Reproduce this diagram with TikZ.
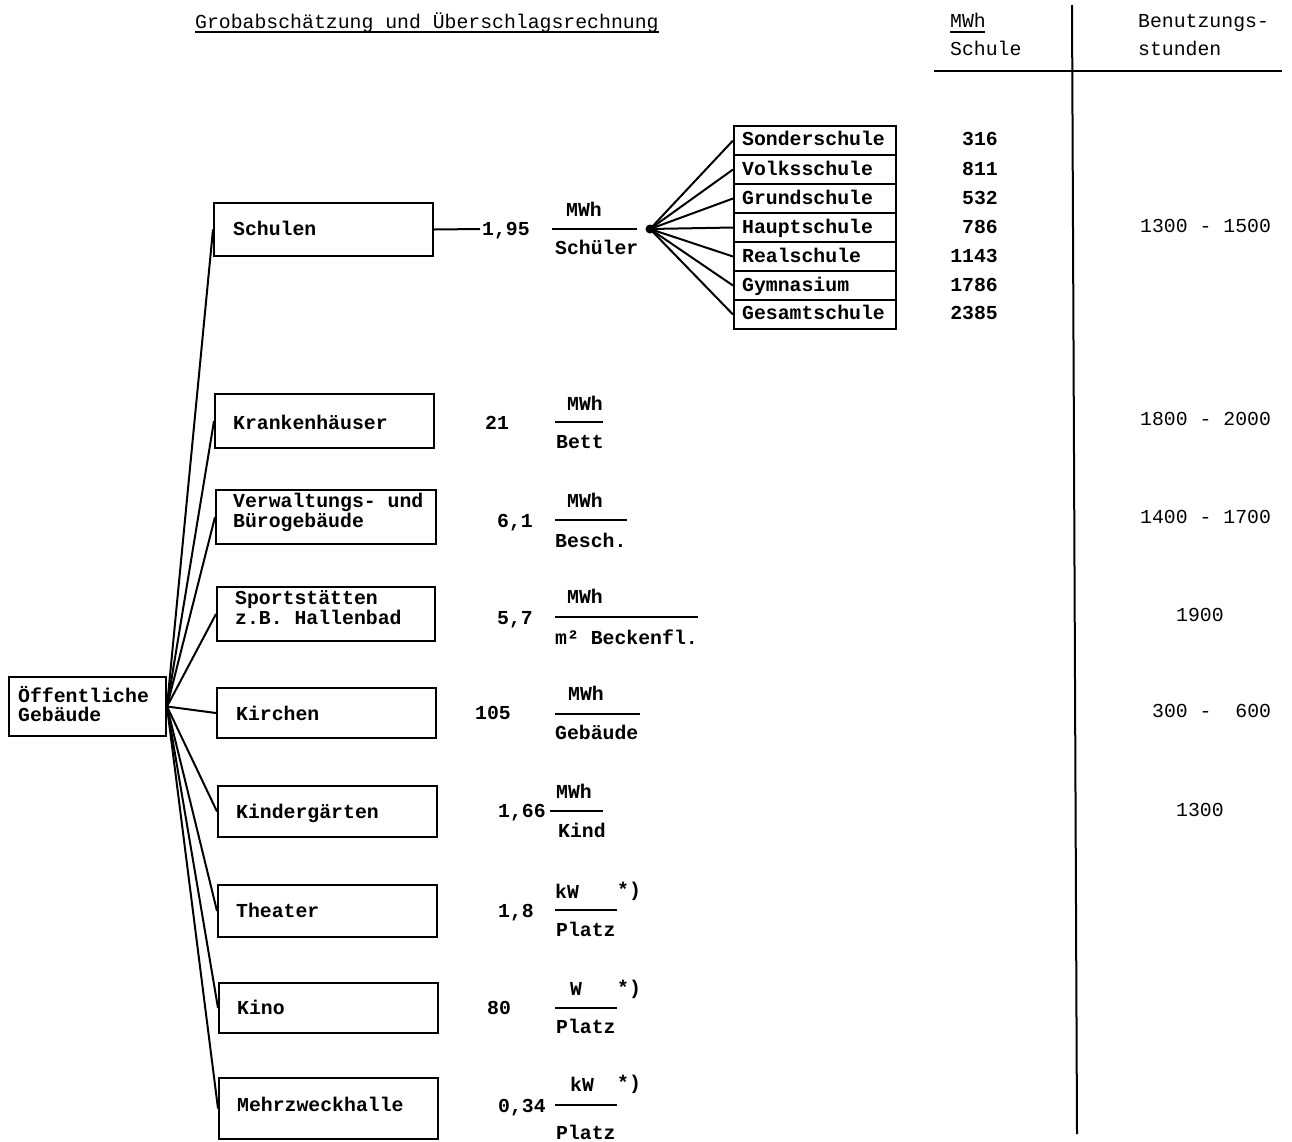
\documentclass[tikz,border=0pt]{standalone}
\usepackage{fontspec}
\newfontfamily\tw{Liberation Mono}
\begin{document}
\begin{tikzpicture}[x=1pt,y=-1pt,
  box/.style={draw, line width=2pt, inner sep=0pt, anchor=north west},
  sbox/.style={box, minimum width=162pt, minimum height=29pt},
  cbox/.style={box, minimum width=219pt, minimum height=53pt},
  txt/.style={font=\tw\fontsize{19.8}{20}\selectfont, inner sep=0pt, anchor=base west},
  btxt/.style={font=\tw\bfseries\fontsize{19.8}{20}\selectfont, inner sep=0pt, anchor=base west},
  rtxt/.style={btxt, anchor=base east},
  con/.style={line width=2pt},
  frac/.style={line width=1.8pt}]
\useasboundingbox (0,0) rectangle (1292,1141);

% header
\node[txt] (title) at (195,28) {Grobabschätzung und Überschlagsrechnung};
\draw[line width=1.5pt] (195,32) -- (659,32);
\node[txt] (hmwh) at (950,27) {MWh};
\draw[line width=1.5pt] (950,32) -- (985,32);
\node[txt] (hschule) at (950,55) {Schule};
\node[txt] (hbn) at (1138,27) {Benutzungs-};
\node[txt] (hst) at (1138,55) {stunden};
\draw[line width=1.8pt] (934,71) -- (1282,71);
\draw[line width=2pt] (1072,5) -- (1077,1134);

% main box
\node[box, minimum width=157pt, minimum height=59pt] (oeff) at (8,676) {};
\node[btxt] (oefft1) at (18,702) {Öffentliche};
\node[btxt] (oefft2) at (18,721) {Gebäude};

% category boxes
\node[cbox] (schulen) at (213,202) {};
\node[btxt] at (233,235) {Schulen};
\node[cbox, minimum height=54pt] (kranken) at (214,393) {};
\node[btxt] at (233,429) {Krankenhäuser};
\node[cbox, minimum width=220pt, minimum height=54pt] (verw) at (215,489) {};
\node[btxt] at (233,507) {Verwaltungs- und};
\node[btxt] at (233,527) {Bürogebäude};
\node[cbox, minimum width=218pt, minimum height=54pt] (sport) at (216,586) {};
\node[btxt] at (235,604) {Sportstätten};
\node[btxt] at (235,624) {z.B. Hallenbad};
\node[cbox, minimum height=50pt] (kirchen) at (216,687) {};
\node[btxt] at (236,720) {Kirchen};
\node[cbox, minimum height=51pt] (kinder) at (217,785) {};
\node[btxt] at (236,818) {Kindergärten};
\node[cbox, minimum height=52pt] (theater) at (217,884) {};
\node[btxt] at (236,917) {Theater};
\node[cbox, minimum height=50pt] (kino) at (218,982) {};
\node[btxt] at (237,1014) {Kino};
\node[cbox, minimum height=61pt] (mehr) at (218,1077) {};
\node[btxt] at (237,1111) {Mehrzweckhalle};

% fan from main box
\foreach \b in {schulen,kranken,verw,sport,kirchen,kinder,theater,kino,mehr}
  \draw[con] (oeff.east) -- (\b.west);

% Schulen branch
\coordinate (s1) at (480,229);
\draw[con] (schulen.east) -- (s1);
\node[btxt] (v195) at (482,235) {1,95};
\draw[frac] (552,229) -- (637,229);
\node[btxt] at (566,216) {MWh};
\node[btxt] at (555,254) {Schüler};
\node[circle, fill, inner sep=0pt, minimum size=9pt] (dot) at (650,229) {};

% school boxes
\node[sbox] (sonder) at (733,125) {};
\node[sbox] (volks) at (733,154) {};
\node[sbox] (grund) at (733,183) {};
\node[sbox] (haupt) at (733,212) {};
\node[sbox] (real) at (733,241) {};
\node[sbox] (gym) at (733,270) {};
\node[sbox] (gesamt) at (733,299) {};
\node[btxt] at (742,145) {Sonderschule};
\node[btxt] at (742,175) {Volksschule};
\node[btxt] at (742,204) {Grundschule};
\node[btxt] at (742,233) {Hauptschule};
\node[btxt] at (742,262) {Realschule};
\node[btxt] at (742,291) {Gymnasium};
\node[btxt] at (742,319) {Gesamtschule};
\foreach \b in {sonder,volks,grund,haupt,real,gym,gesamt}
  \draw[con] (dot.center) -- (\b.west);

% MWh per school
\node[rtxt] at (998,145) {316};
\node[rtxt] at (998,175) {811};
\node[rtxt] at (998,204) {532};
\node[rtxt] at (998,233) {786};
\node[rtxt] at (998,262) {1143};
\node[rtxt] at (998,291) {1786};
\node[rtxt] at (998,319) {2385};

% fractions
\node[btxt] at (485,429) {21};
\node[btxt] at (567,410) {MWh};
\draw[frac] (555,422) -- (603,422);
\node[btxt] at (556,448) {Bett};

\node[btxt] at (497,527) {6,1};
\node[btxt] at (567,507) {MWh};
\draw[frac] (555,520) -- (627,520);
\node[btxt] at (555,547) {Besch.};

\node[btxt] at (497,624) {5,7};
\node[btxt] at (567,603) {MWh};
\draw[frac] (555,617) -- (698,617);
\node[btxt] at (555,644) {m² Beckenfl.};

\node[btxt] at (475,719) {105};
\node[btxt] at (568,700) {MWh};
\draw[frac] (555,714) -- (640,714);
\node[btxt] at (555,739) {Gebäude};

\node[btxt] at (498,817) {1,66};
\node[btxt] at (556,798) {MWh};
\draw[frac] (550,811) -- (603,811);
\node[btxt] at (558,837) {Kind};

\node[btxt] at (498,917) {1,8};
\node[btxt] at (555,898) {kW};
\node[btxt] at (617,896) {*)};
\draw[frac] (555,910) -- (617,910);
\node[btxt] at (556,936) {Platz};

\node[btxt] at (487,1014) {80};
\node[btxt] at (570,995) {W};
\node[btxt] at (617,994) {*)};
\draw[frac] (555,1008) -- (617,1008);
\node[btxt] at (556,1033) {Platz};

\node[btxt] at (498,1112) {0,34};
\node[btxt] at (570,1091) {kW};
\node[btxt] at (617,1089) {*)};
\draw[frac] (555,1105) -- (617,1105);
\node[btxt] at (556,1139) {Platz};

% Benutzungsstunden
\node[txt] at (1140,232) {1300 - 1500};
\node[txt] at (1140,425) {1800 - 2000};
\node[txt] at (1140,523) {1400 - 1700};
\node[txt] at (1176,621) {1900};
\node[txt] at (1152,717) {300 -\ \ 600};
\node[txt] at (1176,816) {1300};
\end{tikzpicture}
\end{document}
